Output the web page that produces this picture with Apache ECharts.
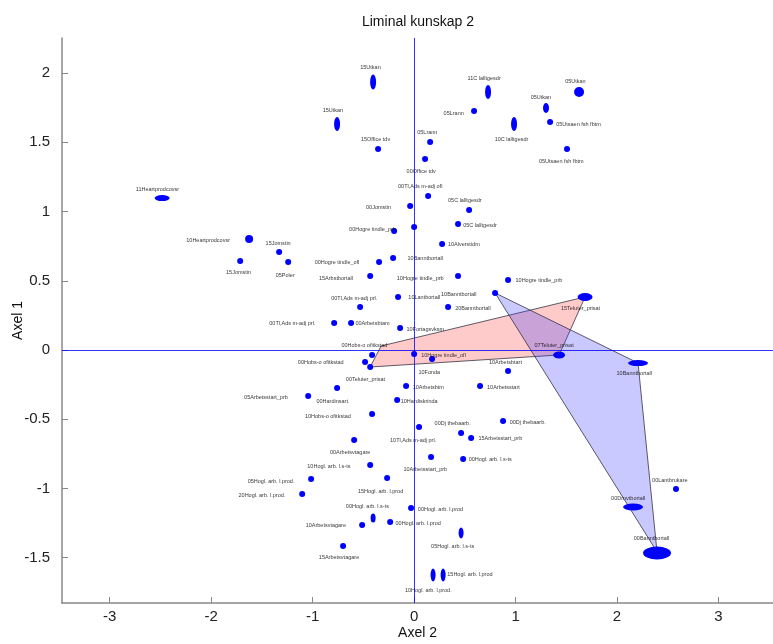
<!DOCTYPE html>
<html>
<head>
<meta charset="utf-8">
<script src="https://cdn.jsdelivr.net/npm/echarts@6/dist/echarts.min.js"></script>
<style>html,body{margin:0;padding:0;background:#fff}#c{width:773px;height:644px}</style>
</head>
<body>
<div id="c"></div>
<script>
// Axis ticks
const xTicks = [-3, -2, -1, 0, 1, 2, 3];
const yTicks = [-1.5, -1, -0.5, 0, 0.5, 1, 1.5, 2];

// Data points [Axel 2, Axel 1]
const points = [
  [-0.404,1.935],[-0.759,1.632],[-0.355,1.451],[-2.483,1.097],[-0.039,1.040],
  [0.000,0.888],[-0.197,0.859],[0.729,1.863],[1.626,1.863],[1.300,1.747],
  [0.591,1.726],[0.985,1.632],[1.340,1.646],[1.507,1.451],[0.158,1.502],
  [0.108,1.379],[0.138,1.112],[0.542,1.011],[0.433,0.910],[-1.626,0.801],
  [-1.330,0.708],[-1.714,0.643],[-1.241,0.635],[-0.345,0.635],[-0.207,0.664],
  [-0.433,0.534],[0.276,0.765],[0.433,0.534],[0.926,0.505],[0.798,0.412],
  [0.335,0.310],[1.685,0.383],[-0.158,0.383],[-0.532,0.310],[-0.788,0.195],
  [-0.621,0.195],[-0.138,0.159],[-0.414,-0.036],[-0.483,-0.087],[-0.433,-0.123],
  [0.000,-0.029],[0.177,-0.065],[1.429,-0.036],[2.207,-0.094],[0.926,-0.152],
  [0.650,-0.260],[-0.759,-0.274],[-1.044,-0.332],[-0.079,-0.260],[-0.167,-0.361],
  [-0.414,-0.462],[0.049,-0.556],[0.877,-0.513],[0.463,-0.599],[0.562,-0.635],
  [-0.591,-0.650],[0.167,-0.773],[0.483,-0.787],[-0.433,-0.830],[-0.266,-0.924],
  [-1.015,-0.931],[-1.103,-1.040],[2.581,-1.004],[2.158,-1.134],[-0.030,-1.141],
  [-0.236,-1.242],[-0.404,-1.213],[-0.512,-1.264],[0.463,-1.321],[-0.700,-1.415],
  [0.187,-1.625],[0.286,-1.625],[2.394,-1.466]
];
// Marker ellipse sizes [width, height] in px (index -> size), default otherwise
const markerSizes = {
  0:[6,15], 1:[6,14], 3:[15,6], 7:[6,14], 8:[10,10], 9:[6,10], 11:[6,14],
  19:[8,8], 31:[15,8], 42:[12,7], 43:[20,6], 63:[20,7], 66:[5,9], 68:[5,11],
  70:[5,13], 71:[5,13], 72:[28,13]
};

// Point labels [Axel 2, Axel 1, text]
const labels = [
  [-0.43,2.04,'15Utkan'],[-0.80,1.73,'15Utkan'],[-0.38,1.52,'15Office tdv'],
  [-2.53,1.16,'11Heartprodcovsr'],[-0.35,1.03,'00Jomstin'],[-0.41,0.87,'00Hogre tindle_prb'],
  [0.69,1.96,'11C lalltgesdr'],[1.59,1.94,'05Utkan'],[1.25,1.82,'05Utkan'],
  [0.39,1.71,'05Lrann'],[0.96,1.52,'10C lalltgesdr'],[1.62,1.63,'05Utsaen fsh fbtm'],
  [1.45,1.36,'05Utsaen fsh fbtm'],[0.13,1.57,'05Lrann'],[0.07,1.29,'00Office tdv'],
  [0.06,1.18,'00Tl,Ads m-adj ofl'],[0.50,1.08,'05C lalltgesdr'],[0.65,0.90,'05C lalltgesdr'],
  [-2.03,0.79,'10Heartprodcovsr'],[-1.34,0.77,'15Jomstin'],[-1.73,0.56,'15Jomstin'],
  [-1.27,0.54,'05Poler'],[-0.76,0.63,'00Hogre tindle_ofl'],[0.11,0.66,'10Banntbortall'],
  [-0.77,0.52,'15Arbstbortall'],[0.06,0.52,'10Hogre tindle_prb'],[0.49,0.76,'10Alverstidm'],
  [1.23,0.50,'10Hogre tindle_prb'],[0.44,0.40,'10Banntbortall'],[0.58,0.30,'20Banntbortall'],
  [1.64,0.30,'15Teluter_prisat'],[0.10,0.38,'10Lantbortall'],[-0.59,0.37,'00Tl,Ads m-adj prl.'],
  [-1.20,0.19,'00Tl,Ads m-adj prl.'],[-0.41,0.19,'00Arbetsbtam'],[0.11,0.15,'10Fortagsvksm'],
  [-0.49,0.03,'00Hobs-o ofitkstad'],[-0.92,-0.09,'00Hobs-o ofitkstad'],[1.38,0.03,'07Teluter_prisat'],
  [0.29,-0.04,'10Hogre tindle_ofl'],[2.17,-0.17,'10Banntbortall'],[0.90,-0.09,'10Arbetsbtart'],
  [0.15,-0.16,'10Fonda'],[0.88,-0.27,'10Arbetsstart'],[0.14,-0.27,'10Arbetsbtm'],
  [0.05,-0.37,'10Hardiskrinda'],[-0.48,-0.21,'00Teluter_prisat'],[-1.46,-0.34,'05Arbetsstart_prb'],
  [-0.80,-0.37,'00Hardinsart.'],[-0.85,-0.48,'10Hobs-o ofitkstad'],[1.12,-0.52,'00Dj thebaarb.'],
  [0.38,-0.53,'00Dj thebaarb.'],[0.85,-0.64,'15Arbetsstart_prb'],[-0.01,-0.65,'10Tl,Ads m-adj prl.'],
  [-0.63,-0.74,'00Arbetsvtagare'],[0.11,-0.86,'10Arbetsstart_prb'],[0.75,-0.79,'00Hogl. arb. l.s-ts'],
  [-0.84,-0.84,'10Hogl. arb. l.s-ts'],[-0.33,-1.02,'15Hogl. arb. l.prod'],[-1.41,-0.95,'05Hogl. arb. l.prod.'],
  [-1.50,-1.05,'20Hogl. arb. l.prod.'],[-0.46,-1.13,'00Hogl. arb. l.s-ts'],[0.26,-1.15,'00Hogl. arb. l.prod'],
  [0.04,-1.25,'00Hogl. arb. l.prod'],[-0.87,-1.27,'10Arbetsvtagare'],[0.38,-1.42,'05Hogl. arb. l.s-ts'],
  [-0.74,-1.50,'15Arbetsvtagare'],[0.55,-1.62,'15Hogl. arb. l.prod'],[0.14,-1.74,'10Hogl. arb. l.prod.'],
  [2.52,-0.94,'00Lantbrukare'],[2.11,-1.07,'00Drnvtbortall'],[2.34,-1.36,'00Banntbortall']
];

// Group polygons
const redPoly = [[-0.433,-0.123],[-0.325,0.029],[1.685,0.383],[1.429,-0.036]];
const bluePoly = [[0.798,0.412],[2.207,-0.094],[2.394,-1.458]];

const chart = echarts.init(document.getElementById('c'), null, {renderer:'canvas'});
const FONT = 'Liberation Sans';

function polySeries(poly, fill) {
  return {
    type: 'custom',
    data: poly,
    silent: true,
    z: 1,
    renderItem: function (params, api) {
      if (params.dataIndex !== 0) return;
      const pts = poly.map(p => api.coord(p));
      return {
        type: 'polygon',
        shape: { points: pts },
        style: { fill: fill, stroke: '#333344', lineWidth: 0.8 }
      };
    }
  };
}

chart.setOption({
  animation: false,
  backgroundColor: '#fff',
  title: {
    text: 'Liminal kunskap 2', left: 413, top: 10, textAlign: 'center',
    textStyle: { fontFamily: FONT, fontSize: 14, fontWeight: 'normal', color: '#111' }
  },
  grid: { left: 62, right: 0, top: 38, bottom: 41, containLabel: false, outerBoundsMode: 'none' },
  xAxis: {
    type: 'value', min: -3.47, max: 3.537,
    name: 'Axel 2', nameLocation: 'middle', nameGap: 23, nameMoveOverlap: false,
    nameTextStyle: { fontFamily: FONT, fontSize: 14, color: '#111' },
    axisLine: { show: true, onZero: false, lineStyle: { color: '#888', width: 1.5 } },
    axisTick: { show: true, inside: true, length: 6, customValues: xTicks, lineStyle: { color: '#888' } },
    axisLabel: { customValues: xTicks, fontFamily: FONT, fontSize: 15, color: '#222', margin: 6 },
    splitLine: { show: false }
  },
  yAxis: {
    type: 'value', min: -1.827, max: 2.253,
    name: 'Axel 1', nameLocation: 'middle', nameGap: 37, nameRotate: 90, nameMoveOverlap: false,
    nameTextStyle: { fontFamily: FONT, fontSize: 14, color: '#111' },
    axisLine: { show: true, onZero: false, lineStyle: { color: '#888', width: 1.5 } },
    axisTick: { show: true, inside: true, length: 6, customValues: yTicks, lineStyle: { color: '#888' } },
    axisLabel: { customValues: yTicks, fontFamily: FONT, fontSize: 15, color: '#222', margin: 12 },
    splitLine: { show: false }
  },
  series: [
    polySeries(redPoly, 'rgba(255,80,80,0.3)'),
    polySeries(bluePoly, 'rgba(60,60,255,0.28)'),
    {
      type: 'scatter',
      z: 3,
      data: points,
      symbol: 'circle',
      symbolSize: function (v, p) { return markerSizes[p.dataIndex] || [6, 6]; },
      itemStyle: { color: '#0000ff', opacity: 1 },
      markLine: {
        silent: true, symbol: 'none', animation: false,
        label: { show: false },
        lineStyle: { color: '#0000ff', width: 1, type: 'solid', opacity: 0.8 },
        data: [{ xAxis: 0 }, { yAxis: 0 }]
      }
    },
    {
      type: 'scatter',
      z: 4,
      silent: true,
      symbolSize: 0,
      data: labels.map(l => ({ value: [l[0], l[1]], name: l[2] })),
      label: {
        show: true, position: 'inside', formatter: '{b}',
        fontFamily: FONT, fontSize: 5.5, color: '#000'
      }
    }
  ]
});
</script>
</body>
</html>
